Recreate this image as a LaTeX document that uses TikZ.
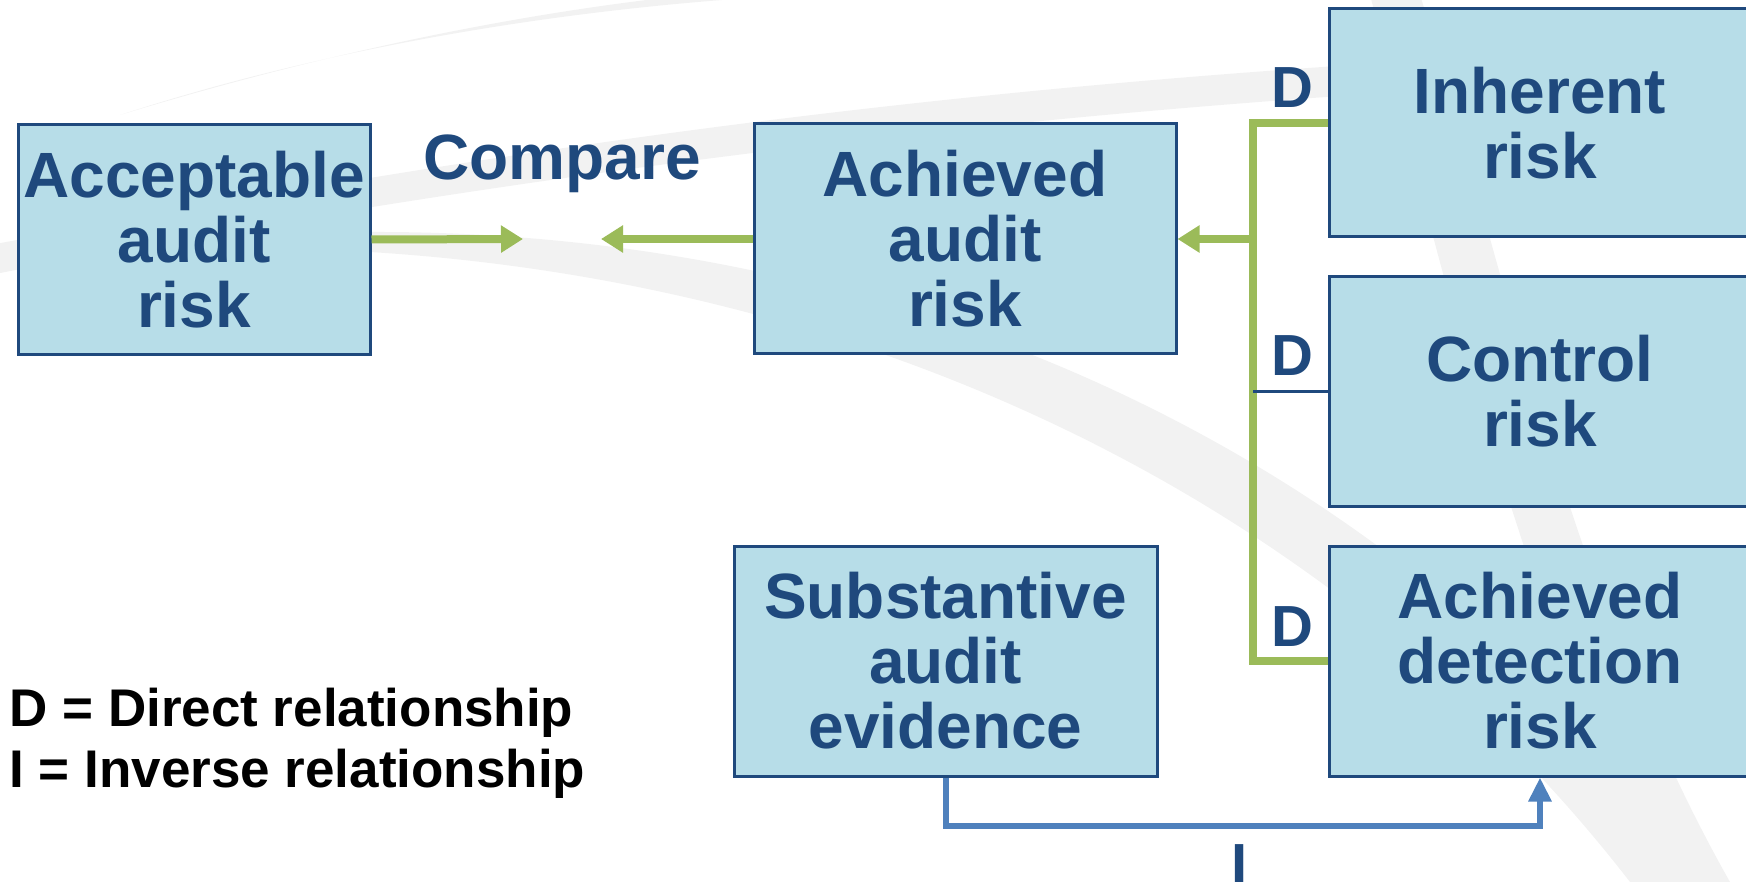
\documentclass[tikz,border=0pt]{standalone}
\usepackage{fontspec}
\setmainfont{Liberation Sans}
\usetikzlibrary{arrows.meta}

\definecolor{boxfill}{HTML}{B7DDE8}
\definecolor{boxline}{HTML}{1F497D}
\definecolor{grnline}{HTML}{9BBB59}
\definecolor{bluline}{HTML}{4F81BD}
\definecolor{swoosh}{HTML}{F2F2F2}

\begin{document}
\begin{tikzpicture}[x=0.5pt,y=-0.5pt,
  riskbox/.style={draw=boxline,fill=boxfill,line width=1.5pt,text=boxline,
    font=\fontsize{32}{32.5}\selectfont\bfseries,align=center,inner sep=0pt,
    minimum width=211pt,minimum height=115pt},
  grn/.style={draw=grnline,line width=4pt},
  grnarrow/.style={grn,-{Triangle[length=11pt,width=13pt]}},
  lbl/.style={text=boxline,font=\fontsize{29}{29}\selectfont\bfseries,inner sep=0pt,anchor=base},
  keytext/.style={anchor=base west,inner sep=0pt,font=\fontsize{26.5}{26.5}\selectfont\bfseries}]
  \useasboundingbox (0,0) rectangle (1746,882);
  % faint swooshes behind
  \fill[swoosh] (120,115) .. controls (350,40) and (600,5) .. (800,-5) -- (690,-5) .. controls (500,15) and (300,60) .. (120,115) -- cycle;
  \fill[swoosh] (-10,245) .. controls (500,150) and (1000,70) .. (1760,45) -- (1760,75) .. controls (1100,95) and (500,175) .. (-10,275) -- cycle;
  \fill[swoosh] (370,232) .. controls (900,230) and (1400,450) .. (1710,882) -- (1630,882) .. controls (1350,520) and (900,285) .. (370,252) -- cycle;
  \fill[swoosh] (1420,-5) .. controls (1500,250) and (1570,600) .. (1730,882) -- (1660,882) .. controls (1520,600) and (1450,300) .. (1370,-5) -- cycle;

  \node[riskbox,minimum width=176pt] (acc) at (194,239.5) {Acceptable\\audit\\risk};
  \node[riskbox] (ach) at (965,239) {Achieved\\audit\\risk};
  \node[riskbox,minimum height=114pt] (inh) at (1540,123) {Inherent\\risk};
  \node[riskbox] (ctl) at (1540,391.5) {Control\\risk};
  \node[riskbox] (det) at (1540,661) {Achieved\\detection\\risk};
  \node[riskbox,minimum width=211.5pt] (sub) at (945.5,661) {Substantive\\audit\\evidence};

  \node[anchor=base,inner sep=0pt,text=boxline,font=\fontsize{32}{32}\selectfont\bfseries] (cmp) at (562,180) {Compare};
  \coordinate (cmpL) at (523,239);
  \coordinate (cmpR) at (601,239);
  \draw[grnarrow] (acc.east) -- (cmpL);
  \draw[grnarrow] (ach.west) -- (cmpR);

  % direct links
  \coordinate (jn) at (1253,239);
  \draw[grn] (inh.west) -| (jn) |- (det.west);
  \draw[grnarrow] (jn) -- (ach.east);
  \draw[draw=boxline,line width=1.5pt] (ctl.west) -- (ctl.west -| jn);
  \node[lbl] (dInh) at (1292,108) {D};
  \node[lbl] (dCtl) at (1292,375) {D};
  \node[lbl] (dDet) at (1292,646) {D};

  % inverse link
  \draw[draw=bluline,line width=3pt,-{Triangle[length=12pt,width=11pt]}] (sub.south) -- ++(0,48) -| (det.south);
  \node[lbl] (inv) at (1240,884) {I};

  \node[keytext] (keyD) at (9,726) {D = Direct relationship};
  \node[keytext] (keyI) at (9,787) {I = Inverse relationship};
\end{tikzpicture}
\end{document}
